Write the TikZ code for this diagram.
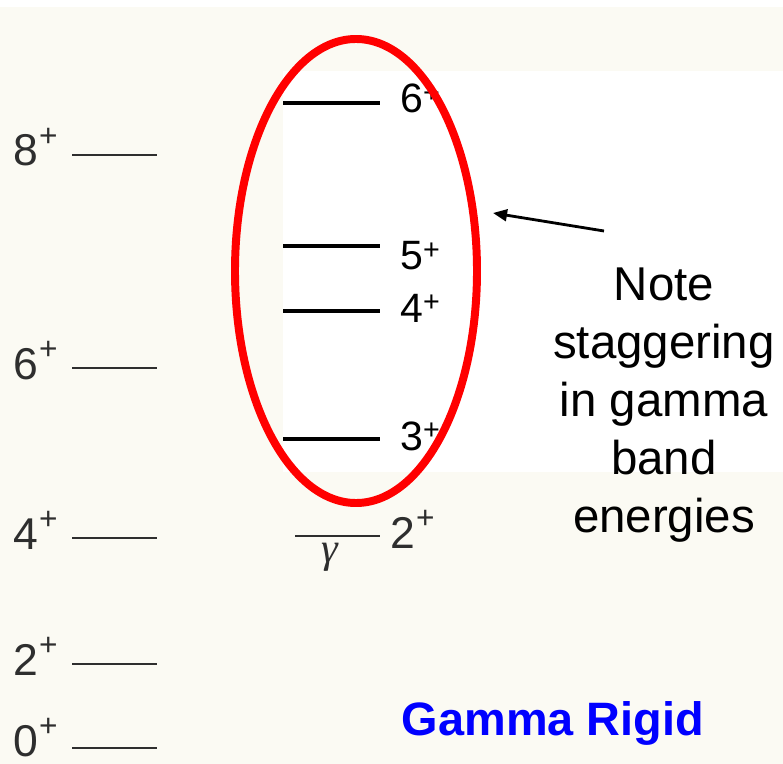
\documentclass[tikz,border=0pt]{standalone}
\usepackage{fontspec}
\setmainfont{Liberation Sans}
\newfontfamily\gamfont{Liberation Serif}
\usetikzlibrary{arrows.meta,positioning,shapes.geometric}
\definecolor{bandInk}{HTML}{000000}
\definecolor{bandRed}{HTML}{FF0000}
\definecolor{bandBlue}{HTML}{0000FF}
\definecolor{bandPaper}{HTML}{FBFAF3}
\definecolor{bandGray}{HTML}{2E2E2E}
\newcommand{\scanspin}[1]{#1\kern1pt\raisebox{17pt}{\fontsize{27}{27}\selectfont+}}
\tikzset{
  every picture/.style={font=\fontsize{33}{38}\selectfont, text=bandInk},
  gsb line/.style={draw=bandGray, line width=1.6pt},
  gam line/.style={draw=bandInk, line width=2.6pt},
  level label/.style={anchor=base west, inner sep=0pt, text=bandGray,
    font=\fontsize{38}{42}\selectfont},
  gam label/.style={anchor=base west, inner sep=0pt,
    font=\fontsize{35}{40}\selectfont},
  band ring/.style={ellipse, draw=bandRed, line width=6.8pt,
    minimum width=7.26cm, minimum height=13.92cm, inner sep=0pt},
  note arrow/.style={-{Triangle[length=12pt,width=10pt]},
    draw=bandInk, line width=2.4pt},
  note text/.style={align=center, font=\fontsize{40.5}{49.5}\selectfont},
  title text/.style={anchor=base, font=\fontsize{40}{48}\selectfont\bfseries,
    text=bandBlue}
}

\begin{document}
\begin{tikzpicture}[x=0.03cm,y=-0.03cm]
  \fill[bandPaper] (0,0) rectangle (783,764);
  \fill[white] (0,0) rectangle (783,7);
  \fill[white] (283,71) rectangle (783,472);
  \useasboundingbox (0,0) rectangle (783,764);
  % ground band
  \foreach \j/\y/\b in {8/155/166,6/368/379,4/538/549,2/664/675,0/748/756} {
    \draw[gsb line] (72,\y) -- (157,\y);
    \node[level label] (g\j) at (13,\b) {\scanspin{\j}};
  }
  % gamma band
  \foreach \j/\y/\b in {6/103/113,5/246/270,4/311/322,3/439/450} {
    \draw[gam line] (283,\y) -- (380,\y);
    \node[gam label] (b\j) at (400,\b) {\j\textsuperscript{+}};
  }
  \draw[gsb line] (295,536) -- (380,536);
  \node[level label] (b2) at (390,548) {\scanspin{2}};
  \node[text=bandGray, font=\gamfont\itshape\fontsize{36}{36}\selectfont] (gam) at (330,557) {γ};
  \node[band ring] (ring) at (356,271) {};
  \node[note text] (note) at (664,405) {Note\\staggering\\in gamma\\band\\energies};
  \coordinate (tail) at (604,231);
  \coordinate (tip) at (493,213);
  \draw[note arrow] (tail) -- (tip);
  \node[title text] (rigid) at (553,735) {Gamma Rigid};
\end{tikzpicture}
\end{document}
